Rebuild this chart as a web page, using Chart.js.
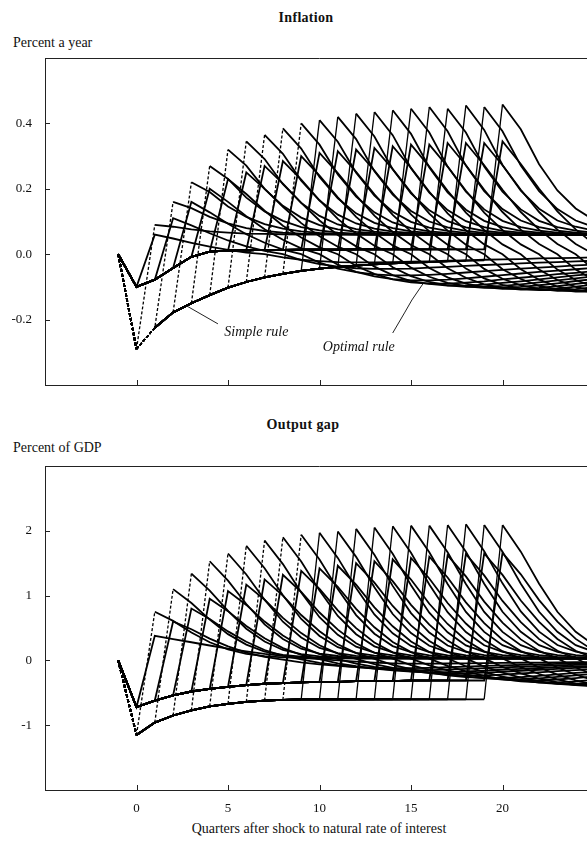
<!DOCTYPE html>
<html>
<head>
<meta charset="utf-8">
<script src="https://cdn.jsdelivr.net/npm/chart.js@4.4.1/dist/chart.umd.min.js"></script>
<style>
  body { margin: 0; width: 587px; height: 841px; overflow: hidden; background: #fff; position: relative;
         font-family: "Liberation Serif", "DejaVu Serif", serif; color: #111; }
  canvas { position: absolute; left: 0; }
  .t { position: absolute; white-space: nowrap; line-height: 1; }
  .c { transform: translateX(-50%); }
</style>
</head>
<body>
<div class="t c" style="left:306px; top:11px; font-size:14px; font-weight:bold; letter-spacing:0.3px">Inflation</div>
<div class="t" style="left:13px; top:36px; font-size:14px">Percent a year</div>
<div class="t c" style="left:303px; top:418px; font-size:14px; font-weight:bold; letter-spacing:0.4px">Output gap</div>
<div class="t" style="left:13px; top:441px; font-size:14px">Percent of GDP</div>
<div class="t c" style="left:319px; top:822px; font-size:14px">Quarters after shock to natural rate of interest</div>

<canvas id="infl" width="594" height="400" style="top:0"></canvas>
<canvas id="out" width="594" height="431" style="top:410px"></canvas>

<script>
// every path starts at zero in the quarter before the shock
const quarterStart = -1;
const xTicks = [0, 5, 10, 15, 20];
const inflTicks = [-0.2, 0, 0.2, 0.4];
const outTicks = [-1, 0, 1, 2];

// ---- Inflation, percent a year ----
// simple rule: path while the shock lasts (quarters 0..19), peak when a k-quarter shock ends,
// then one row per k = 1..20 running from quarter k+1 to 25
const inflSimpleDuring = [-0.29, -0.225, -0.178, -0.15, -0.125, -0.102, -0.085, -0.071, -0.06, -0.051,
  -0.044, -0.039, -0.035, -0.031, -0.028, -0.026, -0.024, -0.022, -0.02, -0.019];
const inflSimplePeaks = [0.09, 0.16, 0.22, 0.27, 0.32, 0.345, 0.365, 0.385, 0.4, 0.41,
  0.42, 0.43, 0.435, 0.44, 0.445, 0.45, 0.445, 0.455, 0.45, 0.458];
const inflSimpleAfter = [
  [0.084, 0.076, 0.07, 0.066, 0.063, 0.062, 0.061, 0.06, 0.06, 0.06, 0.06, 0.06, 0.06, 0.06, 0.06, 0.06, 0.06, 0.06, 0.06, 0.06, 0.06, 0.06, 0.06, 0.06],
  [0.141, 0.114, 0.094, 0.08, 0.071, 0.066, 0.063, 0.062, 0.061, 0.06, 0.06, 0.06, 0.06, 0.06, 0.06, 0.06, 0.06, 0.06, 0.06, 0.06, 0.06, 0.06, 0.06],
  [0.19, 0.146, 0.114, 0.092, 0.078, 0.07, 0.065, 0.062, 0.061, 0.06, 0.06, 0.06, 0.06, 0.06, 0.06, 0.06, 0.06, 0.06, 0.06, 0.06, 0.06, 0.06],
  [0.23, 0.173, 0.131, 0.102, 0.083, 0.073, 0.066, 0.063, 0.061, 0.06, 0.06, 0.06, 0.06, 0.06, 0.06, 0.06, 0.06, 0.06, 0.06, 0.06, 0.06],
  [0.271, 0.2, 0.148, 0.112, 0.089, 0.076, 0.068, 0.064, 0.062, 0.06, 0.06, 0.06, 0.06, 0.06, 0.06, 0.06, 0.06, 0.06, 0.06, 0.06],
  [0.291, 0.214, 0.157, 0.117, 0.091, 0.077, 0.069, 0.064, 0.062, 0.06, 0.06, 0.06, 0.06, 0.06, 0.06, 0.06, 0.06, 0.06, 0.06],
  [0.307, 0.225, 0.164, 0.121, 0.094, 0.078, 0.069, 0.065, 0.062, 0.06, 0.06, 0.06, 0.06, 0.06, 0.06, 0.06, 0.06, 0.06],
  [0.323, 0.236, 0.171, 0.125, 0.096, 0.08, 0.07, 0.065, 0.062, 0.06, 0.06, 0.06, 0.06, 0.06, 0.06, 0.06, 0.06],
  [0.335, 0.244, 0.176, 0.128, 0.097, 0.08, 0.07, 0.065, 0.062, 0.06, 0.06, 0.06, 0.06, 0.06, 0.06, 0.06],
  [0.344, 0.249, 0.179, 0.13, 0.099, 0.081, 0.071, 0.065, 0.062, 0.06, 0.06, 0.06, 0.06, 0.06, 0.06],
  [0.352, 0.254, 0.182, 0.132, 0.1, 0.082, 0.071, 0.065, 0.063, 0.06, 0.06, 0.06, 0.06, 0.06],
  [0.36, 0.26, 0.186, 0.134, 0.101, 0.082, 0.071, 0.066, 0.063, 0.06, 0.06, 0.06, 0.06],
  [0.364, 0.263, 0.188, 0.135, 0.101, 0.083, 0.071, 0.066, 0.063, 0.06, 0.06, 0.06],
  [0.368, 0.265, 0.189, 0.136, 0.102, 0.083, 0.071, 0.066, 0.063, 0.06, 0.06],
  [0.372, 0.268, 0.191, 0.137, 0.102, 0.083, 0.072, 0.066, 0.063, 0.06],
  [0.376, 0.271, 0.193, 0.138, 0.103, 0.083, 0.072, 0.066, 0.063],
  [0.372, 0.268, 0.191, 0.137, 0.102, 0.083, 0.072, 0.066],
  [0.38, 0.273, 0.194, 0.139, 0.103, 0.084, 0.072],
  [0.376, 0.271, 0.193, 0.138, 0.103, 0.083],
  [0.382, 0.275, 0.195, 0.14, 0.104]
];
// optimal rule: same layout
const inflOptDuring = [-0.1, -0.078, -0.042, -0.008, 0.008, 0.011, 0.012, 0.013, 0.013, 0.014,
  0.014, 0.014, 0.015, 0.015, 0.015, 0.015, 0.015, 0.015, 0.015, 0.015];
const inflOptPeaks = [0.06, 0.11, 0.16, 0.2, 0.23, 0.25, 0.27, 0.285, 0.3, 0.31,
  0.315, 0.32, 0.325, 0.33, 0.335, 0.335, 0.34, 0.34, 0.34, 0.345];
const inflOptAfter = [
  [0.048, 0.035, 0.023, 0.013, 0.005, 0, -0.01, -0.017, -0.021, -0.024, -0.025, -0.025, -0.024, -0.023, -0.022, -0.02, -0.019, -0.017, -0.016, -0.015, -0.013, -0.012, -0.011, -0.01],
  [0.088, 0.064, 0.042, 0.024, 0.01, 0, -0.018, -0.03, -0.038, -0.043, -0.045, -0.045, -0.044, -0.041, -0.039, -0.036, -0.033, -0.031, -0.028, -0.026, -0.024, -0.022, -0.02],
  [0.128, 0.093, 0.061, 0.035, 0.014, 0, -0.026, -0.044, -0.055, -0.062, -0.065, -0.065, -0.063, -0.06, -0.056, -0.052, -0.048, -0.044, -0.041, -0.038, -0.034, -0.032],
  [0.16, 0.116, 0.076, 0.044, 0.018, 0, -0.032, -0.054, -0.068, -0.076, -0.08, -0.08, -0.078, -0.074, -0.069, -0.064, -0.059, -0.054, -0.05, -0.046, -0.042],
  [0.184, 0.133, 0.087, 0.051, 0.021, 0, -0.036, -0.06, -0.077, -0.086, -0.09, -0.09, -0.087, -0.083, -0.077, -0.072, -0.067, -0.061, -0.057, -0.052],
  [0.2, 0.145, 0.095, 0.055, 0.023, 0, -0.038, -0.064, -0.082, -0.091, -0.096, -0.096, -0.093, -0.088, -0.083, -0.077, -0.071, -0.065, -0.06],
  [0.216, 0.157, 0.103, 0.059, 0.024, 0, -0.04, -0.067, -0.085, -0.095, -0.1, -0.1, -0.097, -0.092, -0.086, -0.08, -0.074, -0.068],
  [0.228, 0.165, 0.108, 0.063, 0.026, 0, -0.041, -0.069, -0.088, -0.098, -0.103, -0.103, -0.1, -0.095, -0.089, -0.082, -0.076],
  [0.24, 0.174, 0.114, 0.066, 0.027, 0, -0.042, -0.071, -0.09, -0.101, -0.106, -0.106, -0.103, -0.098, -0.091, -0.085],
  [0.248, 0.18, 0.118, 0.068, 0.028, 0, -0.043, -0.072, -0.092, -0.103, -0.108, -0.108, -0.105, -0.099, -0.093],
  [0.252, 0.183, 0.12, 0.069, 0.028, 0, -0.044, -0.074, -0.094, -0.105, -0.11, -0.11, -0.107, -0.101],
  [0.256, 0.186, 0.122, 0.07, 0.029, 0, -0.045, -0.075, -0.095, -0.106, -0.112, -0.112, -0.109],
  [0.26, 0.189, 0.124, 0.072, 0.029, 0, -0.046, -0.076, -0.097, -0.108, -0.114, -0.114],
  [0.264, 0.191, 0.125, 0.073, 0.03, 0, -0.046, -0.078, -0.099, -0.11, -0.116],
  [0.268, 0.194, 0.127, 0.074, 0.03, 0, -0.047, -0.079, -0.1, -0.112],
  [0.268, 0.194, 0.127, 0.074, 0.03, 0, -0.047, -0.079, -0.1],
  [0.272, 0.197, 0.129, 0.075, 0.031, 0, -0.047, -0.079],
  [0.272, 0.197, 0.129, 0.075, 0.031, 0, -0.047],
  [0.272, 0.197, 0.129, 0.075, 0.031, 0],
  [0.276, 0.2, 0.131, 0.076, 0.031]
];

// ---- Output gap, percent of GDP ----
const outSimpleDuring = [-1.15, -0.96, -0.85, -0.77, -0.71, -0.67, -0.64, -0.62, -0.61, -0.6,
  -0.6, -0.6, -0.6, -0.6, -0.6, -0.6, -0.6, -0.6, -0.6, -0.6];
const outSimplePeaks = [0.75, 1.1, 1.34, 1.53, 1.65, 1.77, 1.85, 1.9, 1.94, 1.97,
  1.99, 2.03, 2.05, 2.07, 2.08, 2.08, 2.09, 2.1, 2.09, 2.09];
const outSimpleAfter = [
  [0.61, 0.43, 0.28, 0.17, 0.1, 0.066, 0.048, 0.039, 0.034, 0.03, 0.03, 0.03, 0.03, 0.03, 0.03, 0.03, 0.03, 0.03, 0.03, 0.03, 0.03, 0.03, 0.03, 0.03],
  [0.886, 0.629, 0.405, 0.244, 0.137, 0.084, 0.057, 0.043, 0.035, 0.03, 0.03, 0.03, 0.03, 0.03, 0.03, 0.03, 0.03, 0.03, 0.03, 0.03, 0.03, 0.03, 0.03],
  [1.078, 0.764, 0.489, 0.292, 0.161, 0.096, 0.063, 0.046, 0.037, 0.03, 0.03, 0.03, 0.03, 0.03, 0.03, 0.03, 0.03, 0.03, 0.03, 0.03, 0.03, 0.03],
  [1.23, 0.87, 0.555, 0.33, 0.18, 0.105, 0.068, 0.048, 0.038, 0.03, 0.03, 0.03, 0.03, 0.03, 0.03, 0.03, 0.03, 0.03, 0.03, 0.03, 0.03],
  [1.326, 0.937, 0.597, 0.354, 0.192, 0.111, 0.071, 0.049, 0.038, 0.03, 0.03, 0.03, 0.03, 0.03, 0.03, 0.03, 0.03, 0.03, 0.03, 0.03],
  [1.422, 1.004, 0.639, 0.378, 0.204, 0.117, 0.074, 0.051, 0.039, 0.03, 0.03, 0.03, 0.03, 0.03, 0.03, 0.03, 0.03, 0.03, 0.03],
  [1.486, 1.049, 0.667, 0.394, 0.212, 0.121, 0.076, 0.052, 0.039, 0.03, 0.03, 0.03, 0.03, 0.03, 0.03, 0.03, 0.03, 0.03],
  [1.526, 1.077, 0.685, 0.404, 0.217, 0.124, 0.077, 0.052, 0.039, 0.03, 0.03, 0.03, 0.03, 0.03, 0.03, 0.03, 0.03],
  [1.558, 1.1, 0.699, 0.412, 0.221, 0.126, 0.078, 0.053, 0.04, 0.03, 0.03, 0.03, 0.03, 0.03, 0.03, 0.03],
  [1.582, 1.116, 0.709, 0.418, 0.224, 0.127, 0.079, 0.053, 0.04, 0.03, 0.03, 0.03, 0.03, 0.03, 0.03],
  [1.598, 1.128, 0.716, 0.422, 0.226, 0.128, 0.079, 0.054, 0.04, 0.03, 0.03, 0.03, 0.03, 0.03],
  [1.63, 1.15, 0.73, 0.43, 0.23, 0.13, 0.08, 0.054, 0.04, 0.03, 0.03, 0.03, 0.03],
  [1.646, 1.161, 0.737, 0.434, 0.232, 0.131, 0.081, 0.054, 0.04, 0.03, 0.03, 0.03],
  [1.662, 1.172, 0.744, 0.438, 0.234, 0.132, 0.081, 0.054, 0.04, 0.03, 0.03],
  [1.67, 1.178, 0.748, 0.44, 0.235, 0.133, 0.081, 0.055, 0.04, 0.03],
  [1.67, 1.178, 0.748, 0.44, 0.235, 0.133, 0.081, 0.055, 0.04],
  [1.678, 1.184, 0.751, 0.442, 0.236, 0.133, 0.082, 0.055],
  [1.686, 1.189, 0.755, 0.444, 0.237, 0.134, 0.082],
  [1.678, 1.184, 0.751, 0.442, 0.236, 0.133],
  [1.678, 1.184, 0.751, 0.442, 0.236]
];
const outOptDuring = [-0.72, -0.62, -0.54, -0.48, -0.44, -0.41, -0.38, -0.36, -0.35, -0.34,
  -0.33, -0.33, -0.32, -0.32, -0.32, -0.31, -0.31, -0.31, -0.31, -0.31];
const outOptPeaks = [0.38, 0.6, 0.8, 0.95, 1.07, 1.17, 1.25, 1.32, 1.38, 1.42,
  1.46, 1.5, 1.53, 1.56, 1.58, 1.6, 1.62, 1.64, 1.65, 1.66];
const outOptAfter = [
  [0.33, 0.28, 0.23, 0.18, 0.14, 0.1, 0.07, 0.04, 0.02, 0, -0.02, -0.035, -0.045, -0.05, -0.05, -0.048, -0.045, -0.042, -0.039, -0.036, -0.033, -0.03, -0.028, -0.026],
  [0.48, 0.336, 0.216, 0.12, 0.054, 0.012, -0.03, -0.06, -0.084, -0.102, -0.114, -0.12, -0.12, -0.114, -0.106, -0.096, -0.086, -0.078, -0.07, -0.062, -0.055, -0.049, -0.043],
  [0.64, 0.448, 0.288, 0.16, 0.072, 0.016, -0.038, -0.075, -0.105, -0.128, -0.143, -0.15, -0.15, -0.143, -0.132, -0.12, -0.108, -0.098, -0.087, -0.078, -0.069, -0.062],
  [0.76, 0.532, 0.342, 0.19, 0.086, 0.019, -0.045, -0.09, -0.126, -0.153, -0.171, -0.18, -0.18, -0.171, -0.158, -0.144, -0.13, -0.117, -0.104, -0.094, -0.083],
  [0.856, 0.599, 0.385, 0.214, 0.096, 0.021, -0.05, -0.1, -0.14, -0.17, -0.19, -0.2, -0.2, -0.19, -0.176, -0.16, -0.144, -0.13, -0.116, -0.104],
  [0.936, 0.655, 0.421, 0.234, 0.105, 0.023, -0.058, -0.115, -0.161, -0.196, -0.219, -0.23, -0.23, -0.219, -0.202, -0.184, -0.166, -0.15, -0.133],
  [1.0, 0.7, 0.45, 0.25, 0.113, 0.025, -0.068, -0.135, -0.189, -0.23, -0.257, -0.27, -0.27, -0.257, -0.238, -0.216, -0.194, -0.176],
  [1.056, 0.739, 0.475, 0.264, 0.119, 0.026, -0.073, -0.145, -0.203, -0.247, -0.276, -0.29, -0.29, -0.276, -0.255, -0.232, -0.209],
  [1.104, 0.773, 0.497, 0.276, 0.124, 0.028, -0.078, -0.155, -0.217, -0.264, -0.295, -0.31, -0.31, -0.295, -0.273, -0.248],
  [1.136, 0.795, 0.511, 0.284, 0.128, 0.028, -0.085, -0.17, -0.238, -0.289, -0.323, -0.34, -0.34, -0.323, -0.299],
  [1.168, 0.818, 0.526, 0.292, 0.131, 0.029, -0.09, -0.18, -0.252, -0.306, -0.342, -0.36, -0.36, -0.342],
  [1.2, 0.84, 0.54, 0.3, 0.135, 0.03, -0.095, -0.19, -0.266, -0.323, -0.361, -0.38, -0.38],
  [1.224, 0.857, 0.551, 0.306, 0.138, 0.031, -0.1, -0.2, -0.28, -0.34, -0.38, -0.4],
  [1.248, 0.874, 0.562, 0.312, 0.14, 0.031, -0.105, -0.21, -0.294, -0.357, -0.399],
  [1.264, 0.885, 0.569, 0.316, 0.142, 0.032, -0.11, -0.22, -0.308, -0.374],
  [1.28, 0.896, 0.576, 0.32, 0.144, 0.032, -0.11, -0.22, -0.308],
  [1.296, 0.907, 0.583, 0.324, 0.146, 0.032, -0.11, -0.22],
  [1.312, 0.918, 0.59, 0.328, 0.148, 0.033, -0.11],
  [1.32, 0.924, 0.594, 0.33, 0.149, 0.033],
  [1.328, 0.93, 0.598, 0.332, 0.149]
];

// one response path for a shock lasting k quarters
function pathPoints(k, during, peak, after) {
  const pts = [{ x: quarterStart, y: 0 }];
  for (let q = 0; q < k; q++) pts.push({ x: q, y: during[q] });
  pts.push({ x: k, y: peak });
  after.forEach((v, i) => pts.push({ x: k + 1 + i, y: v }));
  return pts;
}

function family(during, peaks, after, simple, jumpMin) {
  return after.map((row, i) => ({
    data: pathPoints(i + 1, during, peaks[i], row),
    borderColor: '#000',
    borderWidth: 1.8,
    pointRadius: 0,
    tension: 0,
    segment: simple ? {
      borderDash: c => (c.p0.parsed.x < 0 || (c.p0.parsed.x < 9 && c.p1.parsed.y - c.p0.parsed.y > jumpMin)) ? [3, 2] : undefined,
      borderWidth: c => (c.p1.parsed.y - c.p0.parsed.y > jumpMin) ? 1.3 : undefined
    } : undefined
  }));
}

const frame = {
  id: 'frame',
  afterDraw(chart, args, opts) {
    const { ctx, chartArea: a, scales: { x, y } } = chart;
    ctx.save();
    ctx.strokeStyle = '#222';
    ctx.lineWidth = 1;
    ctx.beginPath();
    ctx.moveTo(a.left, a.top + 0.5);
    ctx.lineTo(a.right, a.top + 0.5);
    xTicks.forEach(v => {
      const px = Math.round(x.getPixelForValue(v)) + 0.5;
      ctx.moveTo(px, a.bottom);
      ctx.lineTo(px, a.bottom - 5);
    });
    opts.yTicks.forEach(v => {
      const py = Math.round(y.getPixelForValue(v)) + 0.5;
      ctx.moveTo(a.left, py);
      ctx.lineTo(a.left + 5, py);
    });
    ctx.stroke();

    // labels pointing at the curves
    ctx.fillStyle = '#111';
    ctx.font = 'italic 14px "Liberation Serif"';
    ctx.textAlign = 'center';
    ctx.textBaseline = 'middle';
    (opts.notes || []).forEach(n => {
      ctx.fillText(n.text, x.getPixelForValue(n.at[0]), y.getPixelForValue(n.at[1]));
      ctx.beginPath();
      n.line.forEach((p, i) => {
        const px = x.getPixelForValue(p[0]), py = y.getPixelForValue(p[1]);
        if (i === 0) ctx.moveTo(px, py); else ctx.lineTo(px, py);
      });
      ctx.stroke();
    });
    ctx.restore();
  }
};

function makeChart(id, datasets, range, ticks, fmt, showX, padTop, xHeight, notes) {
  return new Chart(document.getElementById(id), {
    type: 'line',
    data: { datasets },
    options: {
      responsive: false,
      animation: false,
      devicePixelRatio: 1,
      layout: { padding: { top: padTop, left: 0, right: 0, bottom: 0 } },
      plugins: { legend: { display: false }, tooltip: { enabled: false }, frame: { yTicks: ticks, notes } },
      scales: {
        x: {
          type: 'linear', min: -5, max: 25,
          afterBuildTicks: s => { s.ticks = xTicks.map(v => ({ value: v })); },
          afterFit: s => { s.height = xHeight; },
          grid: { display: false },
          border: { display: true, color: '#222', width: 1 },
          ticks: { display: showX, padding: 3, color: '#111', font: { family: 'Liberation Serif', size: 13 },
                   callback: v => String(v) }
        },
        y: {
          type: 'linear', min: range[0], max: range[1],
          afterBuildTicks: s => { s.ticks = ticks.map(v => ({ value: v })); },
          afterFit: s => { s.width = 45; },
          grid: { display: false },
          border: { display: true, color: '#222', width: 1 },
          ticks: { padding: 5, color: '#111', font: { family: 'Liberation Serif', size: 13 }, callback: fmt }
        }
      }
    },
    plugins: [frame]
  });
}

makeChart('infl',
  family(inflSimpleDuring, inflSimplePeaks, inflSimpleAfter, true, 0.05)
    .concat(family(inflOptDuring, inflOptPeaks, inflOptAfter, false)),
  [-0.4, 0.6], inflTicks, v => v.toFixed(1), false, 58, 15,
  [
    { text: 'Simple rule', at: [6.55, -0.238], line: [[4.45, -0.213], [2.8, -0.16]] },
    { text: 'Optimal rule', at: [12.15, -0.285], line: [[14.0, -0.241], [14.67, -0.177], [15.05, -0.14], [15.66, -0.09]] }
  ]);

makeChart('out',
  family(outSimpleDuring, outSimplePeaks, outSimpleAfter, true, 0.25)
    .concat(family(outOptDuring, outOptPeaks, outOptAfter, false)),
  [-2, 3], outTicks, v => String(v), true, 56, 51, []);
</script>
</body>
</html>
